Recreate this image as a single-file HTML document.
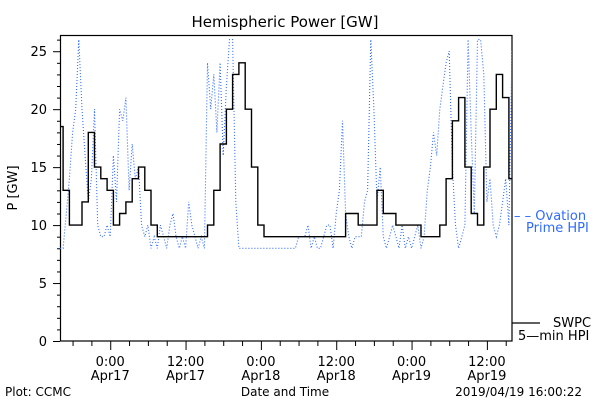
<!DOCTYPE html>
<html><head><meta charset="utf-8"><style>
body{margin:0;background:#fff;}
svg{display:block;font-family:"DejaVu Sans","Liberation Sans",sans-serif;}
</style></head><body>
<svg id="chart" width="600" height="400" viewBox="0 0 600 400">
<defs><clipPath id="clip"><rect x="60" y="35" width="452" height="306"/></clipPath></defs>
<text x="285" y="27" font-size="15" text-anchor="middle">Hemispheric Power [GW]</text>
<rect x="60.5" y="35.5" width="451.5" height="305.5" fill="none" stroke="#000" stroke-width="1.2"/>
<g id="yaxis"></g>
<g id="xaxis"></g>
<text transform="translate(17,188) rotate(-90)" font-size="13" text-anchor="middle">P [GW]</text>
<g clip-path="url(#clip)">
<polyline id="ovation" fill="none" stroke="#2f6bff" stroke-width="1.1" stroke-dasharray="1 2"/>
<polyline id="swpc" fill="none" stroke="#000" stroke-width="1.4"/>
</g>
<g>
<text x="514" y="220" font-size="13" fill="#2f6bff">– – Ovation</text>
<text x="526" y="232" font-size="13" fill="#2f6bff">Prime HPI</text>
</g>
<g>
<line x1="512" y1="323" x2="540" y2="323" stroke="#000" stroke-width="1.2"/>
<text x="553" y="327" font-size="13">SWPC</text>
<text x="518" y="340" font-size="13">5—min HPI</text>
</g>
<text x="285" y="396" font-size="12" text-anchor="middle">Date and Time</text>
<text x="5" y="396" font-size="12">Plot: CCMC</text>
<text x="582" y="396" font-size="12" text-anchor="end">2019/04/19 16:00:22</text>
</svg>
<script>
// hours since 2019-04-16 16:00
const swpcValues=[18.5,13,10,10,12,18,15,14,13,10,11,12,14,15,13,10,9,9,9,9,9,9,9,9,10,13,17,20,23,24,20,15,10,9,9,9,9,9,9,9,9,9,9,9,9,9,11,11,10,10,10,13,11,11,10,10,10,10,9,9,9,10,14,19,21,15,11,10,15,20,23,21,14];
const ovationValues=[8,8,11,14,18,20,26,20,16,12,14,20,10,9,9,10,9,16,12,20,19,21,13,17,14,15,10,9,10,8,9,8,10,9,8,10,11,9,8,9,8,12,10,9,8,9,8,24,20,23,18,24,16,22,26,26,12,8,8,8,8,8,8,8,8,8,8,8,8,8,8,8,8,8,8,8,9,9,9,10,8,9,8,8,9,10,10,8,11,13,19,11,9,8,9,9,9,12,13,26,20,12,15,9,8,9,10,9,8,10,8,9,8,9,10,8,9,13,15,18,16,20,22,24,25,15,10,8,9,10,26,18,11,26,26,23,12,14,10,9,10,12,14,10,25];
const ovationStep=0.5, swpcStep=1;
const xTickHours=[8,20,32,44,56,68];
const xTickTimes=["0:00","12:00","0:00","12:00","0:00","12:00"];
const xTickDates=["Apr17","Apr17","Apr18","Apr18","Apr19","Apr19"];
const yTicks=[0,5,10,15,20,25];
const X0=60,X1=512,Y0=341,YTOP=35,HMAX=72,VMAX=26.4;
const xs=h=>X0+(X1-X0)*h/HMAX;
const ys=v=>Y0-(Y0-YTOP)*v/VMAX;
const NS="http://www.w3.org/2000/svg";
function mk(tag,attrs,parent){const e=document.createElementNS(NS,tag);for(const k in attrs)e.setAttribute(k,attrs[k]);parent.appendChild(e);return e;}
// stepped SWPC line
const sp=[];
swpcValues.forEach((v,i)=>{
  const xa=xs(Math.max(0,(i-0.5)*swpcStep)), xb=xs(Math.min(HMAX,(i+0.5)*swpcStep));
  sp.push(xa.toFixed(1)+','+ys(v).toFixed(1));
  sp.push(xb.toFixed(1)+','+ys(v).toFixed(1));
});
document.getElementById('swpc').setAttribute('points',sp.join(' '));
document.getElementById('ovation').setAttribute('points',ovationValues.map((v,i)=>xs(i*ovationStep).toFixed(1)+','+ys(v).toFixed(1)).join(' '));
const ya=document.getElementById('yaxis');
for(let v=0;v<=26;v++){const y=ys(v)+0.5;const major=v%5===0;
 const t=mk('line',{x1:major?53:57,x2:60,y1:y,y2:y,stroke:'#000'},ya);
 
 }
yTicks.forEach(v=>{const t=mk('text',{x:47,y:ys(v)+5,'font-size':13,'text-anchor':'end'},ya);t.textContent=v;
 
 });
const xa=document.getElementById('xaxis');
for(let h=2;h<=72;h+=3){const x=xs(h)+0.5;const major=(h-8)%12===0;
 const t=mk('line',{x1:x,x2:x,y1:341,y2:major?350:346,stroke:'#000'},xa);
 
 }
xTickHours.forEach((h,i)=>{const a=mk('text',{x:xs(h),y:366,'font-size':13,'text-anchor':'middle'},xa);a.textContent=xTickTimes[i];
 
 
 const b=mk('text',{x:xs(h),y:380,'font-size':13,'text-anchor':'middle'},xa);b.textContent=xTickDates[i];
 
 });
</script>
</body></html>
